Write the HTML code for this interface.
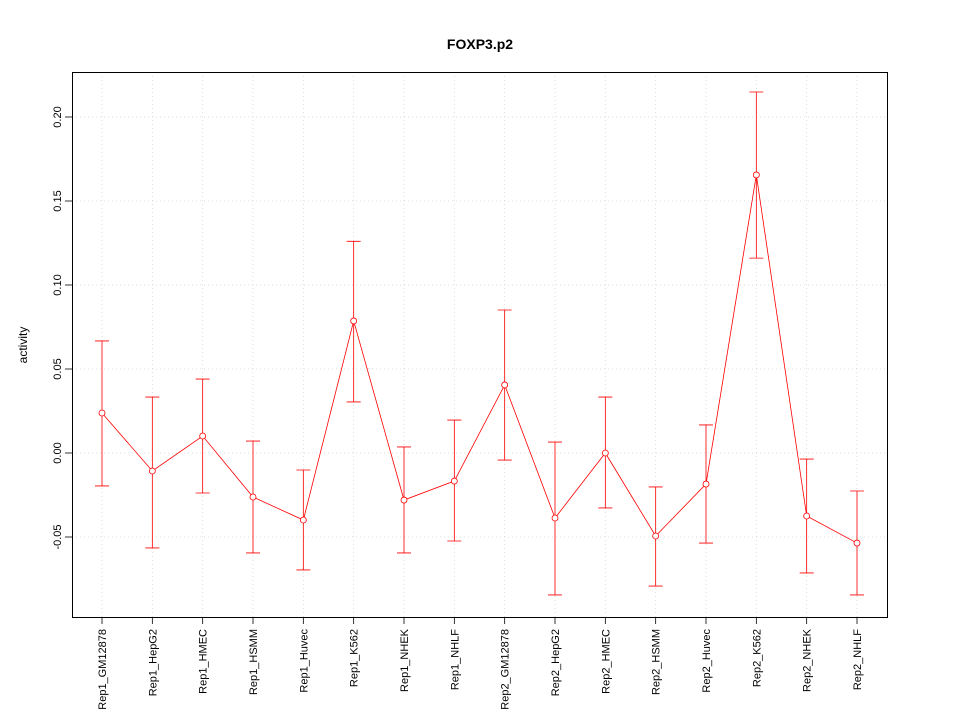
<!DOCTYPE html>
<html><head><meta charset="utf-8"><style>body{margin:0;background:#fff}svg{display:block;font-family:"Liberation Sans",sans-serif}</style></head>
<body>
<svg id="chart" width="960" height="720" viewBox="0 0 960 720">
<text x="480" y="49" text-anchor="middle" font-weight="bold" font-size="14">FOXP3.p2</text>
<text transform="translate(27,345) rotate(-90)" text-anchor="middle" font-size="12">activity</text>
<g id="grid"></g><g id="axes"></g><g id="marks"></g>
<rect x="72.5" y="72.5" width="815" height="545" fill="none" stroke="#000" shape-rendering="crispEdges"/>
</svg>
<script>
const categories=["Rep1_GM12878","Rep1_HepG2","Rep1_HMEC","Rep1_HSMM","Rep1_Huvec","Rep1_K562","Rep1_NHEK","Rep1_NHLF","Rep2_GM12878","Rep2_HepG2","Rep2_HMEC","Rep2_HSMM","Rep2_Huvec","Rep2_K562","Rep2_NHEK","Rep2_NHLF"];
const values=[0.0238,-0.0107,0.0101,-0.0262,-0.0399,0.0786,-0.028,-0.0167,0.0405,-0.0387,0,-0.0494,-0.0185,0.1655,-0.0375,-0.0536];
const upper=[0.0667,0.0333,0.044,0.0071,-0.0101,0.126,0.0036,0.0196,0.0851,0.0065,0.0333,-0.0202,0.0167,0.2149,-0.0036,-0.0226];
const lower=[-0.0196,-0.0565,-0.0238,-0.0595,-0.0696,0.0304,-0.0595,-0.0524,-0.0042,-0.0845,-0.0327,-0.0792,-0.0536,0.116,-0.0714,-0.0845];
const yTicks=[-0.05,0,0.05,0.1,0.15,0.2];
const yTickLabels=["-0.05","0.00","0.05","0.10","0.15","0.20"];
const NS="http://www.w3.org/2000/svg";
const yScale=v=>453-v*1680;
const xScale=i=>102+i*(857-102)/(categories.length-1);
function mk(tag,attrs,parent,text){const e=document.createElementNS(NS,tag);for(const k in attrs)e.setAttribute(k,attrs[k]);if(text!==undefined)e.textContent=text;document.getElementById(parent).appendChild(e);return e;}
categories.forEach((c,i)=>{const x=xScale(i);
 const g=mk('line',{x1:x,x2:x,y1:72,y2:617,stroke:'#d3d3d3','stroke-width':0.8,'stroke-dasharray':'1,3'},'grid');
 
 
 const t=mk('line',{x1:x,x2:x,y1:617,y2:624,stroke:'#000','stroke-width':0.8},'axes');
 
 
 const l=mk('text',{transform:`translate(${x+4},629) rotate(-90)`,'text-anchor':'end','font-size':'11'},'axes',c);
 
 
});
yTicks.forEach((v,i)=>{const y=yScale(v);
 const g=mk('line',{x1:72,x2:887,y1:y,y2:y,stroke:'#d3d3d3','stroke-width':0.8,'stroke-dasharray':'1,3'},'grid');
 
 
 const t=mk('line',{x1:65,x2:72,y1:y,y2:y,stroke:'#000','stroke-width':0.8},'axes');
 
 
 const l=mk('text',{transform:`translate(61,${y}) rotate(-90)`,'text-anchor':'middle','font-size':'11'},'axes',yTickLabels[i]);
 
 
});
const pl=mk('polyline',{points:values.map((v,i)=>xScale(i)+','+yScale(v)).join(' '),fill:'none',stroke:'#f00','stroke-width':0.8},'marks');


values.forEach((v,i)=>{const x=xScale(i);
 const e=mk('path',{d:`M${x},${yScale(lower[i])}V${yScale(upper[i])}M${x-7},${yScale(upper[i])}H${x+7}M${x-7},${yScale(lower[i])}H${x+7}`,stroke:'#f00','stroke-width':0.8,fill:'none'},'marks');
 
 
 const p=mk('circle',{cx:x,cy:yScale(v),r:3,fill:'#fff',stroke:'#f00','stroke-width':0.8},'marks');
 
 
});
</script>
</body></html>
